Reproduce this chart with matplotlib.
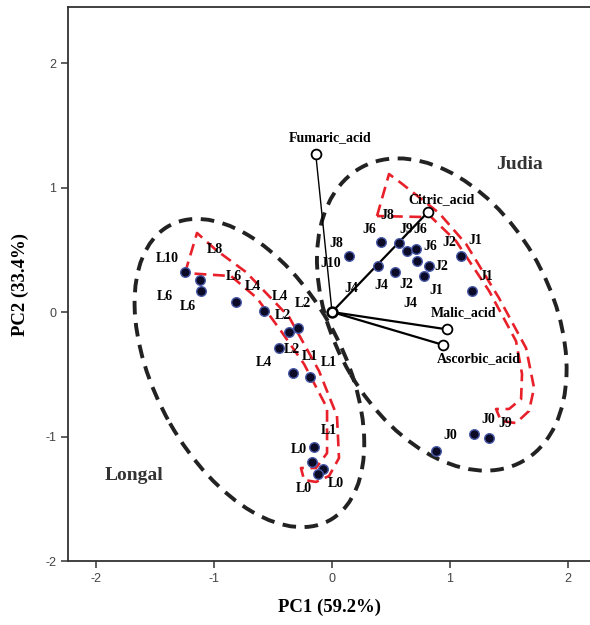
import matplotlib.pyplot as plt
from matplotlib.patches import Ellipse
import numpy as np

plt.rcParams["axes.unicode_minus"] = False

# sample scores
longal_pc1 = [-1.246, -1.119, -1.110, -0.814, -0.576, -0.364, -0.288, -0.449,
              -0.331, -0.186, -0.153, -0.169, -0.076, -0.119]
longal_pc2 = [0.321, 0.257, 0.169, 0.080, 0.008, -0.161, -0.129, -0.289,
              -0.490, -0.522, -1.084, -1.205, -1.261, -1.301]
judia_pc1 = [0.144, 0.415, 0.568, 0.636, 0.712, 0.390, 0.534, 0.720, 0.822,
             0.780, 1.093, 1.186, 0.881, 1.203, 1.331]
judia_pc2 = [0.450, 0.562, 0.554, 0.490, 0.506, 0.369, 0.321, 0.410, 0.369,
             0.289, 0.450, 0.169, -1.116, -0.980, -1.012]

# acid loadings
acids = ["Fumaric_acid", "Citric_acid", "Malic_acid", "Ascorbic_acid"]
acid_pc1 = [-0.138, 0.816, 0.972, 0.944]
acid_pc2 = [1.269, 0.806, -0.139, -0.265]

# point labels (text, x, y)
point_labels = [
    ("L10", -1.392, 0.426), ("L8", -0.992, 0.504), ("L6", -0.836, 0.289),
    ("L6", -1.415, 0.128), ("L6", -1.218, 0.043), ("L4", -0.667, 0.203),
    ("L4", -0.441, 0.123), ("L2", -0.243, 0.070), ("L2", -0.412, -0.032),
    ("L2", -0.342, -0.300), ("L1", -0.192, -0.359), ("L1", -0.028, -0.404),
    ("L4", -0.574, -0.407), ("L1", -0.023, -0.948), ("L0", -0.280, -1.108),
    ("L0", -0.237, -1.416), ("L0", 0.034, -1.376),
    ("J8", 0.469, 0.779), ("J6", 0.314, 0.664), ("J9", 0.627, 0.664),
    ("J6", 0.746, 0.664), ("J8", 0.040, 0.552), ("J10", -0.011, 0.386),
    ("J6", 0.836, 0.525), ("J2", 0.992, 0.557), ("J1", 1.212, 0.573),
    ("J2", 0.929, 0.369), ("J1", 1.311, 0.284), ("J4", 0.167, 0.190),
    ("J4", 0.415, 0.211), ("J2", 0.627, 0.217), ("J1", 0.887, 0.171),
    ("J4", 0.661, 0.070), ("J0", 1.325, -0.862), ("J9", 1.466, -0.894),
    ("J0", 1.006, -0.988),
]
acid_label_pos = [(-0.013, 1.398), (0.929, 0.900), (1.113, -0.005), (1.240, -0.372)]

# curved block arrows (outline)
longal_arrow = [(-1.246, 0.313), (-1.144, 0.635), (-0.983, 0.498), (-0.729, 0.321),
                (-0.364, -0.040), (-0.110, -0.474), (0.042, -0.835), (0.059, -1.173),
                (-0.025, -1.317), (-0.136, -1.365), (-0.237, -1.349), (-0.263, -1.253),
                (-0.136, -1.253), (-0.042, -1.133), (-0.042, -0.771), (-0.237, -0.418),
                (-0.432, -0.153), (-0.636, 0.112), (-0.856, 0.289), (-1.246, 0.313)]
judia_arrow = [(0.381, 0.771), (0.483, 1.108), (0.585, 1.036), (0.907, 0.795),
               (1.136, 0.546), (1.415, 0.112), (1.644, -0.289), (1.712, -0.610),
               (1.669, -0.795), (1.559, -0.892), (1.432, -0.876), (1.390, -0.779),
               (1.500, -0.779), (1.602, -0.699), (1.610, -0.498), (1.559, -0.233),
               (1.331, 0.169), (1.051, 0.570), (0.822, 0.779), (0.780, 0.763),
               (0.381, 0.771)]

serif = ["Liberation Serif", "DejaVu Serif"]

fig = plt.figure(figsize=(5.9, 6.25), dpi=100)
ax = fig.add_axes([0.1153, 0.1024, 0.8847, 0.8864])
ax.set_xlim(-2.237, 2.186)
ax.set_ylim(-2.0, 2.45)

# group ellipses
ax.add_patch(Ellipse((-0.70, -0.49), 2.73, 1.57, angle=-59, fill=False,
                     ec="#222222", lw=2.8, ls=(0, (3.5, 2.2)), zorder=1))
ax.add_patch(Ellipse((0.93, -0.02), 2.73, 1.82, angle=-58, fill=False,
                     ec="#222222", lw=2.8, ls=(0, (3.5, 2.2)), zorder=1))

for path in (longal_arrow, judia_arrow):
    xs, ys = zip(*path)
    ax.plot(xs, ys, color="#e8202a", lw=1.9, ls=(0, (4.5, 2.5)), zorder=2)

# loading vectors
for i, (lx, ly) in enumerate(zip(acid_pc1, acid_pc2)):
    ax.plot([0, lx], [0, ly], color="black", lw=1.0 if i == 0 else 1.6, zorder=3)
ax.scatter(acid_pc1, acid_pc2, s=50, facecolor="white", edgecolor="black",
           lw=1.3, zorder=4)
ax.scatter([0], [0], s=50, facecolor="white", edgecolor="black", lw=1.8, zorder=4)

ax.scatter(longal_pc1 + judia_pc1, longal_pc2 + judia_pc2, s=48,
           color="#0b0b28", edgecolor="#4a5aa8", lw=1.0, zorder=5)

for txt, x, y in point_labels:
    ax.text(x, y, txt, ha="center", va="center", fontsize=10,
            fontweight="bold", family=serif, zorder=6)
for name, (x, y) in zip(acids, acid_label_pos):
    ax.text(x, y, name, ha="center", va="center", fontsize=10,
            fontweight="bold", family=serif, zorder=6)

ax.text(1.585, 1.181, "Judia", ha="center", va="center", fontsize=14,
        fontweight="bold", family=serif, color="#333333")
ax.text(-1.675, -1.317, "Longal", ha="center", va="center", fontsize=14,
        fontweight="bold", family=serif, color="#333333")

ax.set_xticks([-2, -1, 0, 1, 2])
ax.set_yticks([-2, -1, 0, 1, 2])
ax.tick_params(direction="out", length=5, width=1.2, labelsize=9,
               labelcolor="#444444", color="#444444")
for lab in ax.get_xticklabels() + ax.get_yticklabels():
    lab.set_family(["Liberation Sans", "DejaVu Sans"])
ax.spines["right"].set_visible(False)
for s in ("left", "bottom", "top"):
    ax.spines[s].set_linewidth(1.3)
    ax.spines[s].set_color("#333333")

ax.set_xlabel("PC1 (59.2%)", fontsize=13.5, fontweight="bold", family=serif,
              labelpad=10)
ax.set_ylabel("PC2 (33.4%)", fontsize=13.5, fontweight="bold", family=serif,
              labelpad=12)

fig.savefig("out.png", dpi=100)
